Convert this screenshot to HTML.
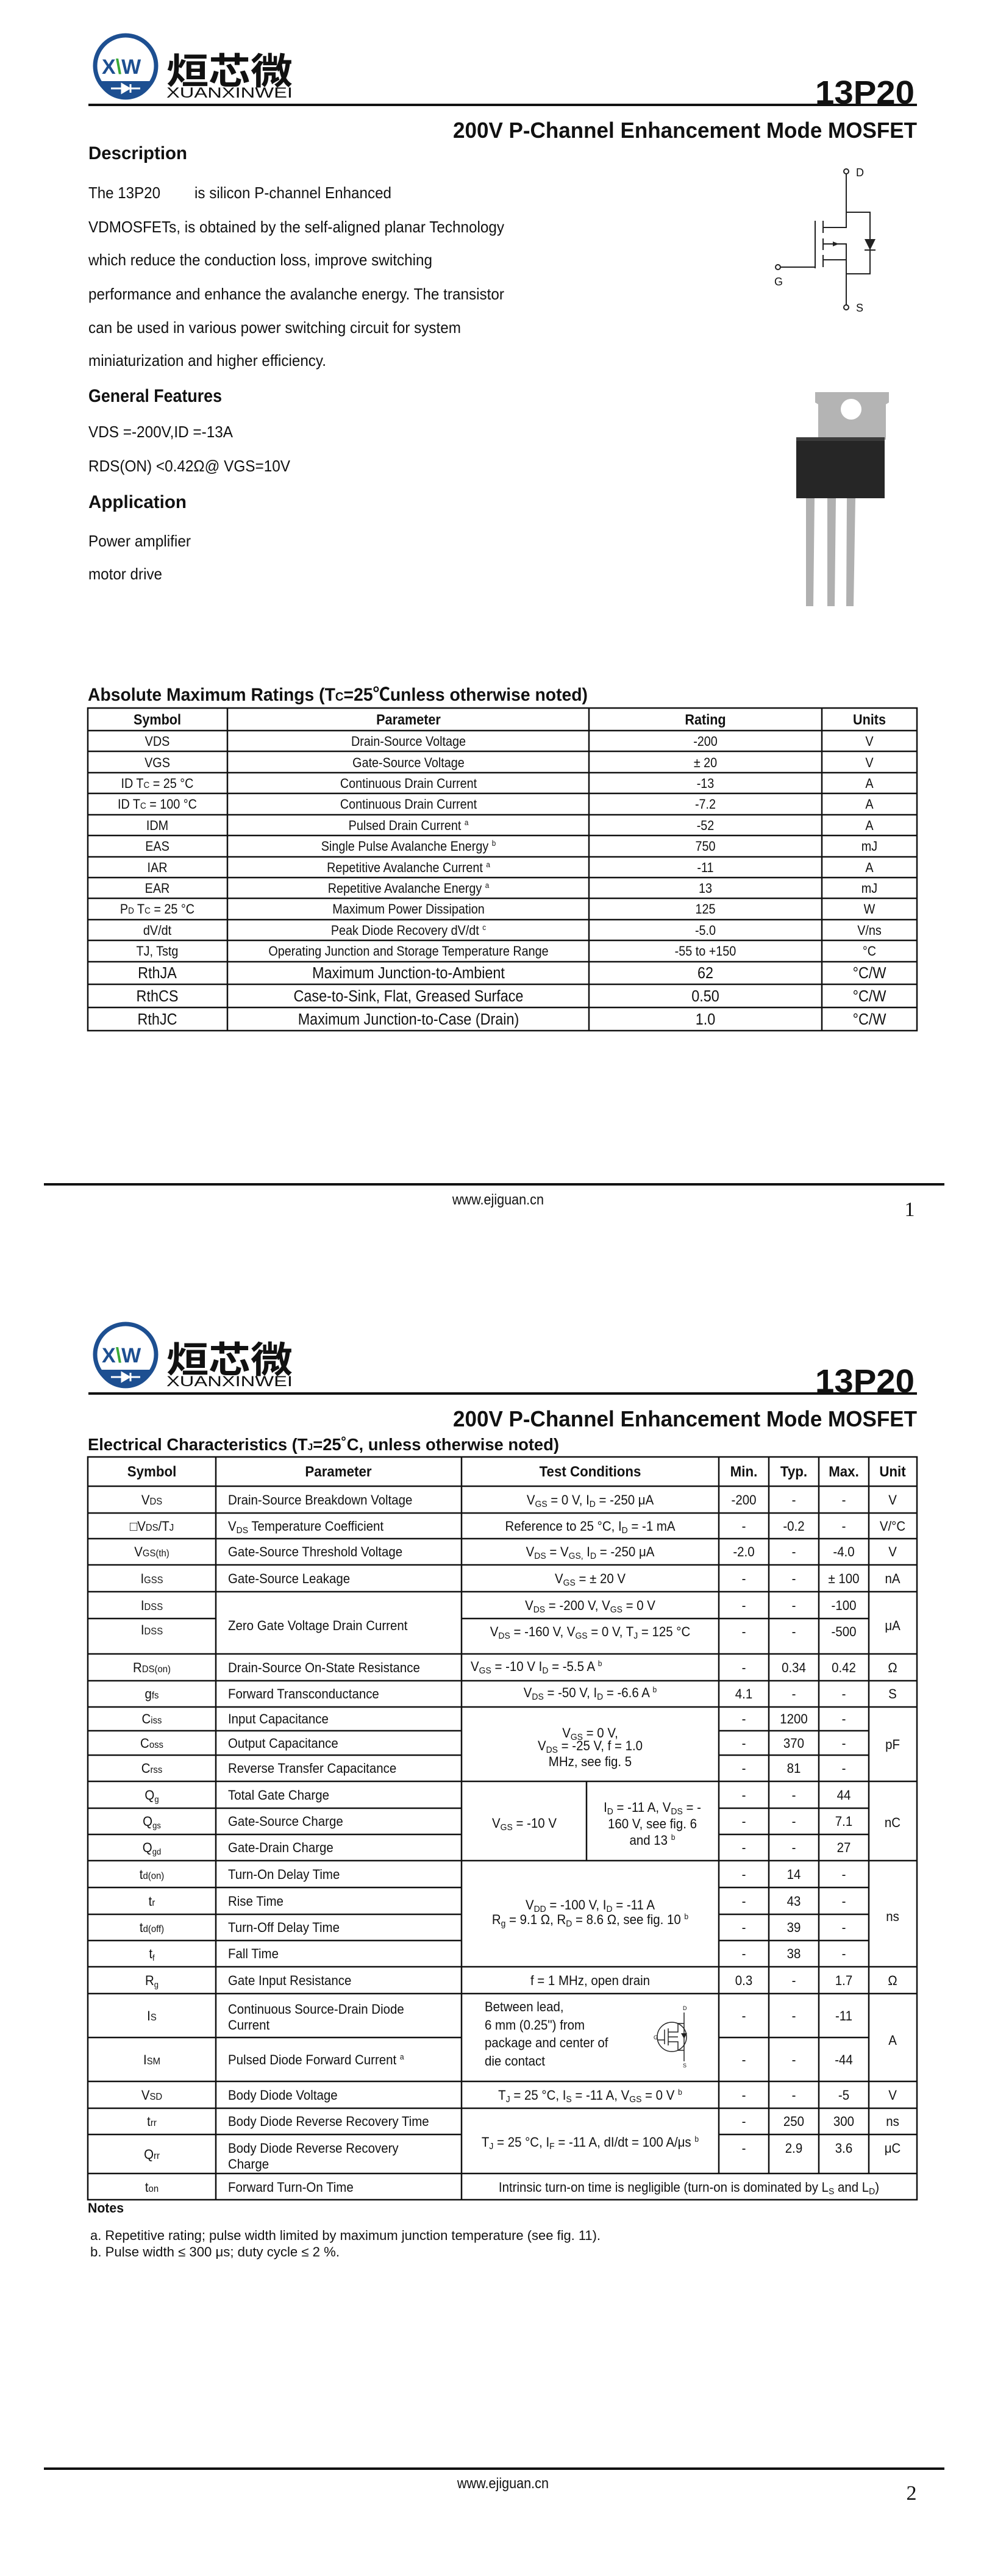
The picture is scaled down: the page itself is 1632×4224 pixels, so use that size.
<!DOCTYPE html>
<html><head><meta charset="utf-8"><style>
html,body{margin:0;padding:0;background:#fff}
svg{display:block}
text{font-family:"Liberation Sans","Noto Sans CJK SC",sans-serif;fill:#111}
.c{text-anchor:middle;transform-box:fill-box;transform-origin:center;transform:scaleX(.9)}
.l{transform-box:fill-box;transform-origin:left center;transform:scaleX(.9)}
.p2 text.c,.p2 text.l{transform:scaleX(.93)}
.b{font-weight:bold}
.ln{stroke:#111;stroke-width:2.5;fill:none}
</style></head><body>
<svg width="1632" height="4224" viewBox="0 0 1632 4224" xmlns="http://www.w3.org/2000/svg">
<rect width="1632" height="4224" fill="#fff"/>

<!-- ===== HEADER template page 1 ===== -->
<g id="hdr">
  <circle cx="206" cy="108" r="50" fill="none" stroke="#1d4f91" stroke-width="7"/>
  <path d="M160 133 L252 133 A50 50 0 0 1 160 133 Z" fill="#1d4f91"/>
  <path d="M182 145 L230 145 M200 138 L200 152 L212 145 Z M214 138 L214 152" stroke="#fff" stroke-width="3" fill="#fff"/>
  <text x="167" y="121" font-size="34" font-weight="bold" fill="#1d4f91" style="fill:#1d4f91">X<tspan style="fill:#3aa935">\</tspan>W</text>
  <text x="273" y="138" font-size="60" font-weight="bold" textLength="207" lengthAdjust="spacingAndGlyphs" style="font-family:'Noto Sans CJK SC',sans-serif">烜芯微</text>
  <text x="273" y="160" font-size="24" textLength="207" lengthAdjust="spacingAndGlyphs">XUANXINWEI</text>
  <rect x="145" y="170" width="1359" height="4" fill="#111"/>
  <text x="1337" y="170" font-size="54" font-weight="bold" textLength="163" lengthAdjust="spacingAndGlyphs">13P20</text>
  <text x="743" y="226" font-size="36" font-weight="bold" textLength="761" lengthAdjust="spacingAndGlyphs">200V P-Channel Enhancement Mode MOSFET</text>
</g>

<!-- Description -->
<text x="145" y="261" font-size="30" class="b" textLength="162" lengthAdjust="spacingAndGlyphs">Description</text>
<text x="145" y="325" font-size="26" textLength="118" lengthAdjust="spacingAndGlyphs">The 13P20</text>
<text x="319" y="325" font-size="26" textLength="323" lengthAdjust="spacingAndGlyphs">is silicon P-channel Enhanced</text>
<text x="145" y="381" font-size="26" textLength="682" lengthAdjust="spacingAndGlyphs">VDMOSFETs, is obtained by the self-aligned planar Technology</text>
<text x="145" y="435" font-size="26" textLength="564" lengthAdjust="spacingAndGlyphs">which reduce the conduction loss, improve switching</text>
<text x="145" y="491" font-size="26" textLength="682" lengthAdjust="spacingAndGlyphs">performance and enhance the avalanche energy. The transistor</text>
<text x="145" y="546" font-size="26" textLength="611" lengthAdjust="spacingAndGlyphs">can be used in various power switching circuit for system</text>
<text x="145" y="600" font-size="26" textLength="390" lengthAdjust="spacingAndGlyphs">miniaturization and higher efficiency.</text>
<text x="145" y="659" font-size="30" class="b" textLength="219" lengthAdjust="spacingAndGlyphs">General Features</text>
<text x="145" y="717" font-size="26" textLength="237" lengthAdjust="spacingAndGlyphs">VDS =-200V,ID =-13A</text>
<text x="145" y="773" font-size="26" textLength="331" lengthAdjust="spacingAndGlyphs">RDS(ON) &lt;0.42Ω@ VGS=10V</text>
<text x="145" y="833" font-size="30" class="b" textLength="161" lengthAdjust="spacingAndGlyphs">Application</text>
<text x="145" y="896" font-size="26" textLength="168" lengthAdjust="spacingAndGlyphs">Power amplifier</text>
<text x="145" y="950" font-size="26" textLength="121" lengthAdjust="spacingAndGlyphs">motor drive</text>

<!-- MOSFET symbol -->
<g stroke="#222" stroke-width="2" fill="none">
  <circle cx="1388" cy="281" r="4"/>
  <circle cx="1388" cy="504" r="4"/>
  <circle cx="1276" cy="438" r="4"/>
  <path d="M1388 285 V373 H1350 M1388 348 H1427 V449 H1388 M1388 500 V400 H1350 M1388 426 H1350"/>
  <path d="M1350 362 V382 M1350 391 V410 M1350 418 V438"/>
  <path d="M1337 362 V440 M1280 438 H1337"/>
  <path d="M1418 410 H1436"/>
</g>
<path d="M1366 396 L1376 400 L1366 404 Z" fill="#222"/>
<path d="M1418 392 L1436 392 L1427 410 Z" fill="#222"/>
<text x="1404" y="289" font-size="18">D</text>
<text x="1404" y="511" font-size="18">S</text>
<text x="1270" y="468" font-size="18">G</text>

<!-- package -->
<path d="M1337 643 H1458 V660 L1453 663 V721 H1342 V663 L1337 660 Z" fill="#b4b4b4"/>
<circle cx="1396" cy="671" r="17" fill="#fff"/>
<rect x="1306" y="717" width="145" height="100" fill="#262626"/>
<rect x="1306" y="717" width="145" height="6" fill="#3c3c3c"/>
<path d="M1322 817 h14 l-2 177 h-12 Z M1357 817 h14 l-2 177 h-12 Z M1389 817 h14 l-3 177 h-12 Z" fill="#b0b0b0"/>

<!-- Absolute max ratings -->
<text x="144" y="1149" font-size="30" class="b" textLength="820" lengthAdjust="spacingAndGlyphs">Absolute Maximum Ratings (T<tspan font-size="20">C</tspan>=25℃unless otherwise noted)</text>
<g class="ln">
  <rect x="144" y="1161" width="1360" height="529"/>
  <path d="M373 1161V1690 M966 1161V1690 M1348 1161V1690"/>
  <path d="M144 1198H1504 M144 1232H1504 M144 1267H1504 M144 1301H1504 M144 1336H1504 M144 1370H1504 M144 1405H1504 M144 1439H1504 M144 1473H1504 M144 1508H1504 M144 1542H1504 M144 1577H1504 M144 1614H1504 M144 1652H1504"/>
</g>
<g font-size="22">
<text x="258" y="1188" class="c b" font-size="24">Symbol</text>
<text x="670" y="1188" class="c b" font-size="24">Parameter</text>
<text x="1157" y="1188" class="c b" font-size="24">Rating</text>
<text x="1426" y="1188" class="c b" font-size="24">Units</text>

<text x="258" y="1223" class="c">VDS</text><text x="670" y="1223" class="c">Drain-Source Voltage</text><text x="1157" y="1223" class="c">-200</text><text x="1426" y="1223" class="c">V</text>
<text x="258" y="1258" class="c">VGS</text><text x="670" y="1258" class="c">Gate-Source Voltage</text><text x="1157" y="1258" class="c">± 20</text><text x="1426" y="1258" class="c">V</text>
<text x="258" y="1292" class="c">ID T<tspan font-size="15">C</tspan> = 25 °C</text><text x="670" y="1292" class="c">Continuous Drain Current</text><text x="1157" y="1292" class="c">-13</text><text x="1426" y="1292" class="c">A</text>
<text x="258" y="1326" class="c">ID T<tspan font-size="15">C</tspan> = 100 °C</text><text x="670" y="1326" class="c">Continuous Drain Current</text><text x="1157" y="1326" class="c">-7.2</text><text x="1426" y="1326" class="c">A</text>
<text x="258" y="1361" class="c">IDM</text><text x="670" y="1361" class="c">Pulsed Drain Current <tspan font-size="13" dy="-8">a</tspan></text><text x="1157" y="1361" class="c">-52</text><text x="1426" y="1361" class="c">A</text>
<text x="258" y="1395" class="c">EAS</text><text x="670" y="1395" class="c">Single Pulse Avalanche Energy <tspan font-size="13" dy="-8">b</tspan></text><text x="1157" y="1395" class="c">750</text><text x="1426" y="1395" class="c">mJ</text>
<text x="258" y="1430" class="c">IAR</text><text x="670" y="1430" class="c">Repetitive Avalanche Current <tspan font-size="13" dy="-8">a</tspan></text><text x="1157" y="1430" class="c">-11</text><text x="1426" y="1430" class="c">A</text>
<text x="258" y="1464" class="c">EAR</text><text x="670" y="1464" class="c">Repetitive Avalanche Energy <tspan font-size="13" dy="-8">a</tspan></text><text x="1157" y="1464" class="c">13</text><text x="1426" y="1464" class="c">mJ</text>
<text x="258" y="1498" class="c">P<tspan font-size="15">D</tspan> T<tspan font-size="15">C</tspan> = 25 °C</text><text x="670" y="1498" class="c">Maximum Power Dissipation</text><text x="1157" y="1498" class="c">125</text><text x="1426" y="1498" class="c">W</text>
<text x="258" y="1533" class="c">dV/dt</text><text x="670" y="1533" class="c">Peak Diode Recovery dV/dt <tspan font-size="13" dy="-8">c</tspan></text><text x="1157" y="1533" class="c">-5.0</text><text x="1426" y="1533" class="c">V/ns</text>
<text x="258" y="1567" class="c">TJ, Tstg</text><text x="670" y="1567" class="c">Operating Junction and Storage Temperature Range</text><text x="1157" y="1567" class="c">-55 to +150</text><text x="1426" y="1567" class="c">°C</text>
</g>
<g font-size="26">
<text x="258" y="1604" class="c">RthJA</text><text x="670" y="1604" class="c">Maximum Junction-to-Ambient</text><text x="1157" y="1604" class="c">62</text><text x="1426" y="1604" class="c">°C/W</text>
<text x="258" y="1642" class="c">RthCS</text><text x="670" y="1642" class="c">Case-to-Sink, Flat, Greased Surface</text><text x="1157" y="1642" class="c">0.50</text><text x="1426" y="1642" class="c">°C/W</text>
<text x="258" y="1680" class="c">RthJC</text><text x="670" y="1680" class="c">Maximum Junction-to-Case (Drain)</text><text x="1157" y="1680" class="c">1.0</text><text x="1426" y="1680" class="c">°C/W</text>
</g>

<!-- footer 1 -->
<rect x="72" y="1940" width="1477" height="4" fill="#111"/>
<text x="817" y="1975" font-size="24" class="c">www.ejiguan.cn</text>
<text x="1492" y="1994" font-size="34" text-anchor="middle" style="font-family:'Liberation Serif',serif">1</text>

<!-- ===== PAGE 2 ===== -->
<use href="#hdr" y="2113"/>

<text x="144" y="2378" font-size="28" class="b" textLength="773" lengthAdjust="spacingAndGlyphs">Electrical Characteristics (T<tspan font-size="16">J</tspan>=25˚C, unless otherwise noted)</text>

<g class="ln">
  <rect x="144" y="2389" width="1360" height="1218"/>
  <path d="M354 2389V3607 M757 2389V3607 M1179 2389V3564 M1261 2389V3564 M1343 2389V3564 M1425 2389V3564 M962 2921V3051"/>
  <path d="M144 2437H1504 M144 2481H1504 M144 2523H1504 M144 2566H1504 M144 2610H1504
           M144 2654H354 M757 2654H1425
           M144 2712H1504 M144 2756H1504 M144 2799H1504
           M144 2838H757 M1179 2838H1425 M144 2878H757 M1179 2878H1425
           M144 2921H1504
           M144 2965H757 M1179 2965H1425 M144 3008H757 M1179 3008H1425
           M144 3051H1504
           M144 3095H757 M1179 3095H1425 M144 3139H757 M1179 3139H1425 M144 3182H757 M1179 3182H1425
           M144 3225H1504 M144 3269H1504
           M144 3341H757 M1179 3341H1425
           M144 3413H1504 M144 3457H1504
           M144 3500H757 M1179 3500H1504
           M144 3564H1504"/>
</g>

<g class="p2" font-size="22">
<g font-size="24">
<text x="249" y="2421" class="c b">Symbol</text>
<text x="555" y="2421" class="c b">Parameter</text>
<text x="968" y="2421" class="c b">Test Conditions</text>
<text x="1220" y="2421" class="c b">Min.</text>
<text x="1302" y="2421" class="c b">Typ.</text>
<text x="1384" y="2421" class="c b">Max.</text>
<text x="1464" y="2421" class="c b">Unit</text>
</g>
<!-- symbols -->
<text x="249" y="2467" class="c">V<tspan font-size="16">DS</tspan></text>
<text x="249" y="2510" class="c">□V<tspan font-size="16">DS</tspan>/T<tspan font-size="16">J</tspan></text>
<text x="249" y="2552" class="c">V<tspan font-size="16">GS(th)</tspan></text>
<text x="249" y="2596" class="c">I<tspan font-size="16">GSS</tspan></text>
<text x="249" y="2640" class="c">I<tspan font-size="16">DSS</tspan></text>
<text x="249" y="2680" class="c">I<tspan font-size="16">DSS</tspan></text>
<text x="249" y="2742" class="c">R<tspan font-size="16">DS(on)</tspan></text>
<text x="249" y="2785" class="c">g<tspan font-size="16">fs</tspan></text>
<text x="249" y="2826" class="c">C<tspan font-size="16">iss</tspan></text>
<text x="249" y="2866" class="c">C<tspan font-size="16">oss</tspan></text>
<text x="249" y="2907" class="c">C<tspan font-size="16">rss</tspan></text>
<text x="249" y="2951" class="c">Q<tspan font-size="14" dy="4">g</tspan></text>
<text x="249" y="2994" class="c">Q<tspan font-size="14" dy="4">gs</tspan></text>
<text x="249" y="3037" class="c">Q<tspan font-size="14" dy="4">gd</tspan></text>
<text x="249" y="3081" class="c">t<tspan font-size="16">d(on)</tspan></text>
<text x="249" y="3125" class="c">t<tspan font-size="16">r</tspan></text>
<text x="249" y="3168" class="c">t<tspan font-size="16">d(off)</tspan></text>
<text x="249" y="3211" class="c">t<tspan font-size="14" dy="4">f</tspan></text>
<text x="249" y="3255" class="c">R<tspan font-size="14" dy="4">g</tspan></text>
<text x="249" y="3313" class="c">I<tspan font-size="16">S</tspan></text>
<text x="249" y="3385" class="c">I<tspan font-size="16">SM</tspan></text>
<text x="249" y="3443" class="c">V<tspan font-size="16">SD</tspan></text>
<text x="249" y="3486" class="c">t<tspan font-size="16">rr</tspan></text>
<text x="249" y="3540" class="c">Q<tspan font-size="16">rr</tspan></text>
<text x="249" y="3594" class="c">t<tspan font-size="16">on</tspan></text>
<!-- params -->
<text x="374" y="2467" class="l">Drain-Source Breakdown Voltage</text>
<text x="374" y="2510" class="l">V<tspan font-size="15" dy="4">DS</tspan><tspan dy="-4"> Temperature Coefficient</tspan></text>
<text x="374" y="2552" class="l">Gate-Source Threshold Voltage</text>
<text x="374" y="2596" class="l">Gate-Source Leakage</text>
<text x="374" y="2673" class="l">Zero Gate Voltage Drain Current</text>
<text x="374" y="2742" class="l">Drain-Source On-State Resistance</text>
<text x="374" y="2785" class="l">Forward Transconductance</text>
<text x="374" y="2826" class="l">Input Capacitance</text>
<text x="374" y="2866" class="l">Output Capacitance</text>
<text x="374" y="2907" class="l">Reverse Transfer Capacitance</text>
<text x="374" y="2951" class="l">Total Gate Charge</text>
<text x="374" y="2994" class="l">Gate-Source Charge</text>
<text x="374" y="3037" class="l">Gate-Drain Charge</text>
<text x="374" y="3081" class="l">Turn-On Delay Time</text>
<text x="374" y="3125" class="l">Rise Time</text>
<text x="374" y="3168" class="l">Turn-Off Delay Time</text>
<text x="374" y="3211" class="l">Fall Time</text>
<text x="374" y="3255" class="l">Gate Input Resistance</text>
<text x="374" y="3302" class="l">Continuous Source-Drain Diode</text>
<text x="374" y="3328" class="l">Current</text>
<text x="374" y="3385" class="l">Pulsed Diode Forward Current <tspan font-size="13" dy="-8">a</tspan></text>
<text x="374" y="3443" class="l">Body Diode Voltage</text>
<text x="374" y="3486" class="l">Body Diode Reverse Recovery Time</text>
<text x="374" y="3530" class="l">Body Diode Reverse Recovery</text>
<text x="374" y="3556" class="l">Charge</text>
<text x="374" y="3594" class="l">Forward Turn-On Time</text>
<!-- conditions -->
<text x="968" y="2467" class="c">V<tspan font-size="15" dy="4">GS</tspan><tspan dy="-4"> = 0 V, I</tspan><tspan font-size="15" dy="4">D</tspan><tspan dy="-4"> = -250 μA</tspan></text>
<text x="968" y="2510" class="c">Reference to 25 °C, I<tspan font-size="15" dy="4">D</tspan><tspan dy="-4"> = -1 mA</tspan></text>
<text x="968" y="2552" class="c">V<tspan font-size="15" dy="4">DS</tspan><tspan dy="-4"> = V</tspan><tspan font-size="15" dy="4">GS,</tspan><tspan dy="-4"> I</tspan><tspan font-size="15" dy="4">D</tspan><tspan dy="-4"> = -250 μA</tspan></text>
<text x="968" y="2596" class="c">V<tspan font-size="15" dy="4">GS</tspan><tspan dy="-4"> = ± 20 V</tspan></text>
<text x="968" y="2640" class="c">V<tspan font-size="15" dy="4">DS</tspan><tspan dy="-4"> = -200 V, V</tspan><tspan font-size="15" dy="4">GS</tspan><tspan dy="-4"> = 0 V</tspan></text>
<text x="968" y="2683" class="c">V<tspan font-size="15" dy="4">DS</tspan><tspan dy="-4"> = -160 V, V</tspan><tspan font-size="15" dy="4">GS</tspan><tspan dy="-4"> = 0 V, T</tspan><tspan font-size="15" dy="4">J</tspan><tspan dy="-4"> = 125 °C</tspan></text>
<text x="772" y="2740" class="l">V<tspan font-size="15" dy="4">GS</tspan><tspan dy="-4"> = -10 V I</tspan><tspan font-size="15" dy="4">D</tspan><tspan dy="-4"> = -5.5 A </tspan><tspan font-size="13" dy="-8">b</tspan></text>
<text x="968" y="2783" class="c">V<tspan font-size="15" dy="4">DS</tspan><tspan dy="-4"> = -50 V, I</tspan><tspan font-size="15" dy="4">D</tspan><tspan dy="-4"> = -6.6 A </tspan><tspan font-size="13" dy="-8">b</tspan></text>
<text x="968" y="2849" class="c">V<tspan font-size="15" dy="4">GS</tspan><tspan dy="-4"> = 0 V,</tspan></text>
<text x="968" y="2870" class="c">V<tspan font-size="15" dy="4">DS</tspan><tspan dy="-4"> = -25 V, f = 1.0</tspan></text>
<text x="968" y="2896" class="c">MHz, see fig. 5</text>
<text x="860" y="2997" class="c">V<tspan font-size="15" dy="4">GS</tspan><tspan dy="-4"> = -10 V</tspan></text>
<text x="1070" y="2971" class="c">I<tspan font-size="15" dy="4">D</tspan><tspan dy="-4"> = -11 A, V</tspan><tspan font-size="15" dy="4">DS</tspan><tspan dy="-4"> = -</tspan></text>
<text x="1070" y="2998" class="c">160 V, see fig. 6</text>
<text x="1070" y="3025" class="c">and 13 <tspan font-size="13" dy="-8">b</tspan></text>
<text x="968" y="3131" class="c">V<tspan font-size="15" dy="4">DD</tspan><tspan dy="-4"> = -100 V, I</tspan><tspan font-size="15" dy="4">D</tspan><tspan dy="-4"> = -11 A</tspan></text>
<text x="968" y="3155" class="c">R<tspan font-size="15" dy="4">g</tspan><tspan dy="-4"> = 9.1 Ω, R</tspan><tspan font-size="15" dy="4">D</tspan><tspan dy="-4"> = 8.6 Ω, see fig. 10 </tspan><tspan font-size="13" dy="-8">b</tspan></text>
<text x="968" y="3255" class="c">f = 1 MHz, open drain</text>
<text x="795" y="3298" class="l">Between lead,</text>
<text x="795" y="3328" class="l">6 mm (0.25") from</text>
<text x="795" y="3357" class="l">package and center of</text>
<text x="795" y="3387" class="l">die contact</text>
<text x="968" y="3443" class="c">T<tspan font-size="15" dy="4">J</tspan><tspan dy="-4"> = 25 °C, I</tspan><tspan font-size="15" dy="4">S</tspan><tspan dy="-4"> = -11 A, V</tspan><tspan font-size="15" dy="4">GS</tspan><tspan dy="-4"> = 0 V </tspan><tspan font-size="13" dy="-8">b</tspan></text>
<text x="968" y="3520" class="c">T<tspan font-size="15" dy="4">J</tspan><tspan dy="-4"> = 25 °C, I</tspan><tspan font-size="15" dy="4">F</tspan><tspan dy="-4"> = -11 A, dI/dt = 100 A/μs </tspan><tspan font-size="13" dy="-8">b</tspan></text>
<text x="1130" y="3594" class="c">Intrinsic turn-on time is negligible (turn-on is dominated by L<tspan font-size="15" dy="4">S</tspan><tspan dy="-4"> and L</tspan><tspan font-size="15" dy="4">D</tspan><tspan dy="-4">)</tspan></text>

<!-- values -->
<text x="1220" y="2467" class="c">-200</text><text x="1302" y="2467" class="c">-</text><text x="1384" y="2467" class="c">-</text><text x="1464" y="2467" class="c">V</text>
<text x="1220" y="2510" class="c">-</text><text x="1302" y="2510" class="c">-0.2</text><text x="1384" y="2510" class="c">-</text><text x="1464" y="2510" class="c">V/°C</text>
<text x="1220" y="2552" class="c">-2.0</text><text x="1302" y="2552" class="c">-</text><text x="1384" y="2552" class="c">-4.0</text><text x="1464" y="2552" class="c">V</text>
<text x="1220" y="2596" class="c">-</text><text x="1302" y="2596" class="c">-</text><text x="1384" y="2596" class="c">± 100</text><text x="1464" y="2596" class="c">nA</text>
<text x="1220" y="2640" class="c">-</text><text x="1302" y="2640" class="c">-</text><text x="1384" y="2640" class="c">-100</text>
<text x="1220" y="2683" class="c">-</text><text x="1302" y="2683" class="c">-</text><text x="1384" y="2683" class="c">-500</text><text x="1464" y="2673" class="c">μA</text>
<text x="1220" y="2742" class="c">-</text><text x="1302" y="2742" class="c">0.34</text><text x="1384" y="2742" class="c">0.42</text><text x="1464" y="2742" class="c">Ω</text>
<text x="1220" y="2785" class="c">4.1</text><text x="1302" y="2785" class="c">-</text><text x="1384" y="2785" class="c">-</text><text x="1464" y="2785" class="c">S</text>
<text x="1220" y="2826" class="c">-</text><text x="1302" y="2826" class="c">1200</text><text x="1384" y="2826" class="c">-</text>
<text x="1220" y="2866" class="c">-</text><text x="1302" y="2866" class="c">370</text><text x="1384" y="2866" class="c">-</text><text x="1464" y="2868" class="c">pF</text>
<text x="1220" y="2907" class="c">-</text><text x="1302" y="2907" class="c">81</text><text x="1384" y="2907" class="c">-</text>
<text x="1220" y="2951" class="c">-</text><text x="1302" y="2951" class="c">-</text><text x="1384" y="2951" class="c">44</text>
<text x="1220" y="2994" class="c">-</text><text x="1302" y="2994" class="c">-</text><text x="1384" y="2994" class="c">7.1</text><text x="1464" y="2996" class="c">nC</text>
<text x="1220" y="3037" class="c">-</text><text x="1302" y="3037" class="c">-</text><text x="1384" y="3037" class="c">27</text>
<text x="1220" y="3081" class="c">-</text><text x="1302" y="3081" class="c">14</text><text x="1384" y="3081" class="c">-</text>
<text x="1220" y="3125" class="c">-</text><text x="1302" y="3125" class="c">43</text><text x="1384" y="3125" class="c">-</text>
<text x="1220" y="3168" class="c">-</text><text x="1302" y="3168" class="c">39</text><text x="1384" y="3168" class="c">-</text><text x="1464" y="3150" class="c">ns</text>
<text x="1220" y="3211" class="c">-</text><text x="1302" y="3211" class="c">38</text><text x="1384" y="3211" class="c">-</text>
<text x="1220" y="3255" class="c">0.3</text><text x="1302" y="3255" class="c">-</text><text x="1384" y="3255" class="c">1.7</text><text x="1464" y="3255" class="c">Ω</text>
<text x="1220" y="3313" class="c">-</text><text x="1302" y="3313" class="c">-</text><text x="1384" y="3313" class="c">-11</text>
<text x="1220" y="3385" class="c">-</text><text x="1302" y="3385" class="c">-</text><text x="1384" y="3385" class="c">-44</text><text x="1464" y="3353" class="c">A</text>
<text x="1220" y="3443" class="c">-</text><text x="1302" y="3443" class="c">-</text><text x="1384" y="3443" class="c">-5</text><text x="1464" y="3443" class="c">V</text>
<text x="1220" y="3486" class="c">-</text><text x="1302" y="3486" class="c">250</text><text x="1384" y="3486" class="c">300</text><text x="1464" y="3486" class="c">ns</text>
<text x="1220" y="3530" class="c">-</text><text x="1302" y="3530" class="c">2.9</text><text x="1384" y="3530" class="c">3.6</text><text x="1464" y="3530" class="c">μC</text>
</g>

<!-- small mosfet icon in Is row -->
<g stroke="#222" stroke-width="1.5" fill="none">
  <circle cx="1102" cy="3340" r="24"/>
  <path d="M1122 3300 V3318 M1122 3362 V3380 M1090 3328 V3352 M1078 3345 H1090 M1096 3326 V3354 M1096 3332 H1112 V3318 H1122 M1096 3348 H1112 V3362 H1122 M1096 3340 H1112 M1122 3318 V3362"/>
</g>
<path d="M1117 3334 L1127 3334 L1122 3343 Z" fill="#222"/>
<text x="1120" y="3296" font-size="9">D</text><text x="1120" y="3390" font-size="9">S</text><text x="1072" y="3344" font-size="9">G</text>

<!-- notes -->
<text x="144" y="3628" font-size="22" class="b" textLength="59" lengthAdjust="spacingAndGlyphs">Notes</text>
<text x="148" y="3673" font-size="22" textLength="837" lengthAdjust="spacingAndGlyphs">a.  Repetitive rating; pulse width limited by maximum junction temperature (see fig. 11).</text>
<text x="148" y="3700" font-size="22" textLength="409" lengthAdjust="spacingAndGlyphs">b.  Pulse width ≤ 300 μs; duty cycle ≤ 2 %.</text>

<!-- footer 2 -->
<rect x="72" y="4046" width="1477" height="4" fill="#111"/>
<text x="825" y="4080" font-size="24" class="c">www.ejiguan.cn</text>
<text x="1495" y="4099" font-size="34" text-anchor="middle" style="font-family:'Liberation Serif',serif">2</text>
</svg>
</body></html>
